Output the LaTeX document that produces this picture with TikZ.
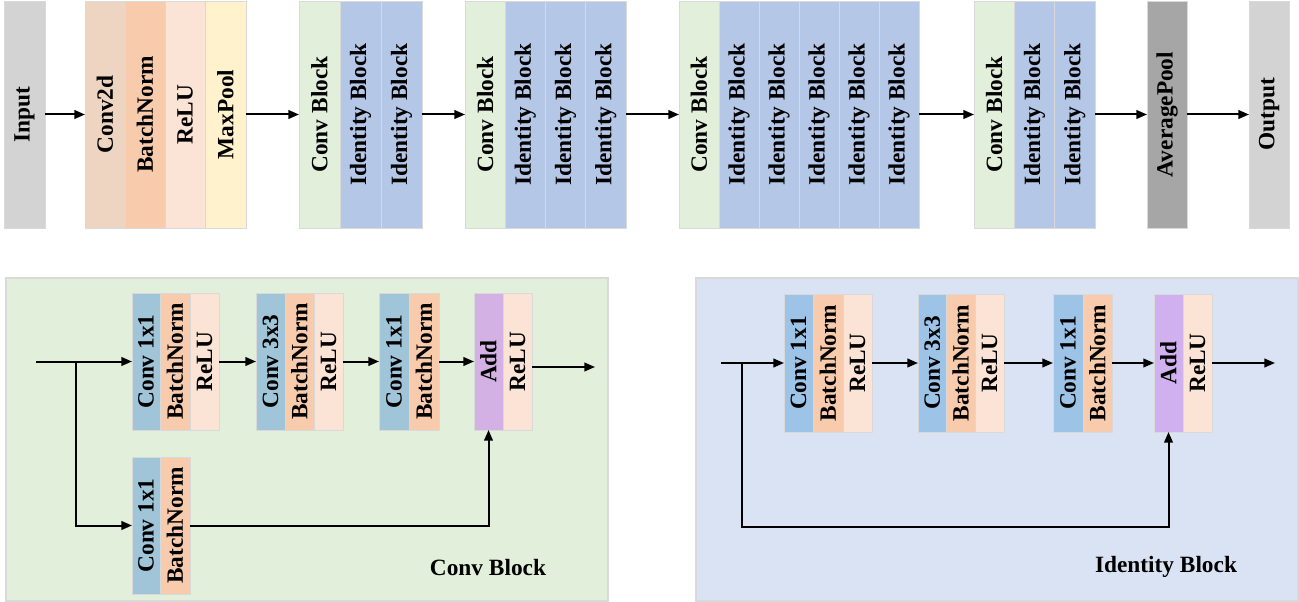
\documentclass[tikz,border=0pt]{standalone}
\usepackage{fontspec}
\setmainfont{Liberation Serif}
\usepackage{graphicx}
\usetikzlibrary{arrows.meta}
\definecolor{cIO}{HTML}{D3D3D3}
\definecolor{cStem}{HTML}{EDD5C1}
\definecolor{cBN}{HTML}{F7CBAC}
\definecolor{cReLU}{HTML}{FBE4D6}
\definecolor{cPool}{HTML}{FFF2CC}
\definecolor{cCB}{HTML}{E2EFDA}
\definecolor{cID}{HTML}{B4C7E7}
\definecolor{cAvg}{HTML}{A6A6A6}
\definecolor{cConvA}{HTML}{A0C5D9}
\definecolor{cConvB}{HTML}{9DC3E6}
\definecolor{cAddA}{HTML}{D4B1E4}
\definecolor{cAddB}{HTML}{D0B0EE}
\definecolor{cPanelG}{HTML}{E2EFDA}
\definecolor{cPanelB}{HTML}{DAE3F3}
\definecolor{bord}{HTML}{D9D9D9}
\newcommand\bx[7]{\node[blk, fill=#6, minimum width={#4*0.75pt}, minimum height={#5*0.75pt}] (#1) at ({#2+#4/2},{#3+#5/2}) {\rotatebox{90}{#7}};}
\tikzset{
  blk/.style={draw=bord, line width=0.6pt, inner sep=0pt, outer sep=0pt, font=\fontsize{17.5}{21}\selectfont\bfseries},
  panel/.style={draw=bord, line width=0.9pt, inner sep=0pt, outer sep=0pt},
  lbl/.style={inner sep=0pt, font=\fontsize{17.5}{21}\selectfont\bfseries},
  arr/.style={line width=1.5pt, -{Triangle[length=8pt,width=6.5pt]}}
}
\begin{document}
\begin{tikzpicture}[x=0.75pt,y=-0.75pt]
\useasboundingbox (0,0) rectangle (1299,602);
% ---------- top row ----------
\bx{inp}{4}{1}{41}{227}{cIO}{Input}
\bx{s1}{85}{1}{40}{227}{cStem}{Conv2d}
\bx{s2}{125}{1}{40}{227}{cBN}{BatchNorm}
\bx{s3}{165}{1}{40}{227}{cReLU}{ReLU}
\bx{s4}{205}{1}{41}{227}{cPool}{MaxPool}
\bx{a1}{299}{1}{41}{227}{cCB}{Conv Block}
\bx{a2}{340}{1}{41}{227}{cID}{Identity Block}
\bx{a3}{381}{1}{41}{227}{cID}{Identity Block}
\bx{b1}{465}{1}{40.25}{227}{cCB}{Conv Block}
\bx{b2}{505.25}{1}{40.25}{227}{cID}{Identity Block}
\bx{b3}{545.5}{1}{40.25}{227}{cID}{Identity Block}
\bx{b4}{585.75}{1}{40.25}{227}{cID}{Identity Block}
\bx{c1}{679}{1}{40}{227}{cCB}{Conv Block}
\bx{c2}{719}{1}{40}{227}{cID}{Identity Block}
\bx{c3}{759}{1}{40}{227}{cID}{Identity Block}
\bx{c4}{799}{1}{40}{227}{cID}{Identity Block}
\bx{c5}{839}{1}{40}{227}{cID}{Identity Block}
\bx{c6}{879}{1}{40}{227}{cID}{Identity Block}
\bx{d1}{974}{1}{40.33}{227}{cCB}{Conv Block}
\bx{d2}{1014.33}{1}{40.33}{227}{cID}{Identity Block}
\bx{d3}{1054.67}{1}{40.33}{227}{cID}{Identity Block}
\bx{avg}{1147}{1}{40}{227}{cAvg}{AveragePool}
\bx{out}{1249}{1}{40}{227}{cIO}{Output}
\draw[arr] (inp.east) -- (s1.west);
\draw[arr] (s4.east) -- (a1.west);
\draw[arr] (a3.east) -- (b1.west);
\draw[arr] (b4.east) -- (c1.west);
\draw[arr] (c6.east) -- (d1.west);
\draw[arr] (d3.east) -- (avg.west);
\draw[arr] (avg.east) -- (out.west);
% ---------- Conv Block panel ----------
\node[panel, fill=cPanelG, minimum width={602*0.75pt}, minimum height={323*0.75pt}] (cbp) at (307,439.5) {};
\bx{p1}{132}{293}{28}{137}{cConvA}{Conv 1x1}
\bx{p2}{160}{293}{30}{137}{cBN}{BatchNorm}
\bx{p3}{190}{293}{29}{137}{cReLU}{ReLU}
\bx{q1}{256}{293}{29}{137}{cConvA}{Conv 3x3}
\bx{q2}{285}{293}{29}{137}{cBN}{BatchNorm}
\bx{q3}{314}{293}{29}{137}{cReLU}{ReLU}
\bx{r1}{379}{293}{30}{137}{cConvA}{Conv 1x1}
\bx{r2}{409}{293}{30}{137}{cBN}{BatchNorm}
\bx{t1}{474}{293}{29}{137}{cAddA}{Add}
\bx{t2}{503}{293}{29}{137}{cReLU}{ReLU}
\bx{u1}{132}{457}{28}{137}{cConvA}{Conv 1x1}
\bx{u2}{160}{457}{30}{137}{cBN}{BatchNorm}
\node[lbl] (cbl) at (488,568) {Conv Block};
\coordinate (cin) at (36,361.5);
\coordinate (cbr) at (76,361.5);
\coordinate (cout) at (595,367);
\draw[arr] (cin) -- (p1.west);
\draw[arr] (cbr) |- (u1.west);
\draw[arr] (p3.east) -- (q1.west);
\draw[arr] (q3.east) -- (r1.west);
\draw[arr] (r2.east) -- (t1.west);
\draw[arr] (u2.east) -| (t1.south);
\draw[arr] (t2.east |- cout) -- (cout);
% ---------- Identity Block panel ----------
\node[panel, fill=cPanelB, minimum width={602*0.75pt}, minimum height={323*0.75pt}] (ibp) at (997,439.5) {};
\bx{e1}{784}{294}{29}{138}{cConvB}{Conv 1x1}
\bx{e2}{813}{294}{30}{138}{cBN}{BatchNorm}
\bx{e3}{843}{294}{29}{138}{cReLU}{ReLU}
\bx{f1}{918}{294}{28.5}{138}{cConvB}{Conv 3x3}
\bx{f2}{946.5}{294}{28.5}{138}{cBN}{BatchNorm}
\bx{f3}{975}{294}{29}{138}{cReLU}{ReLU}
\bx{g1}{1053}{294}{30}{138}{cConvB}{Conv 1x1}
\bx{g2}{1083}{294}{29}{138}{cBN}{BatchNorm}
\bx{h1}{1154}{294}{29}{138}{cAddB}{Add}
\bx{h2}{1183}{294}{29}{138}{cReLU}{ReLU}
\node[lbl] (ibl) at (1166,567) {Identity Block};
\coordinate (iin) at (721,363);
\coordinate (ibr) at (742,363);
\coordinate (ibot) at (742,527);
\coordinate (iout) at (1275,363);
\draw[arr] (iin) -- (e1.west);
\draw[arr] (e3.east) -- (f1.west);
\draw[arr] (f3.east) -- (g1.west);
\draw[arr] (g2.east) -- (h1.west);
\draw[arr] (ibr) -- (ibot) -| (h1.south);
\draw[arr] (h2.east) -- (iout);
\end{tikzpicture}
\end{document}
